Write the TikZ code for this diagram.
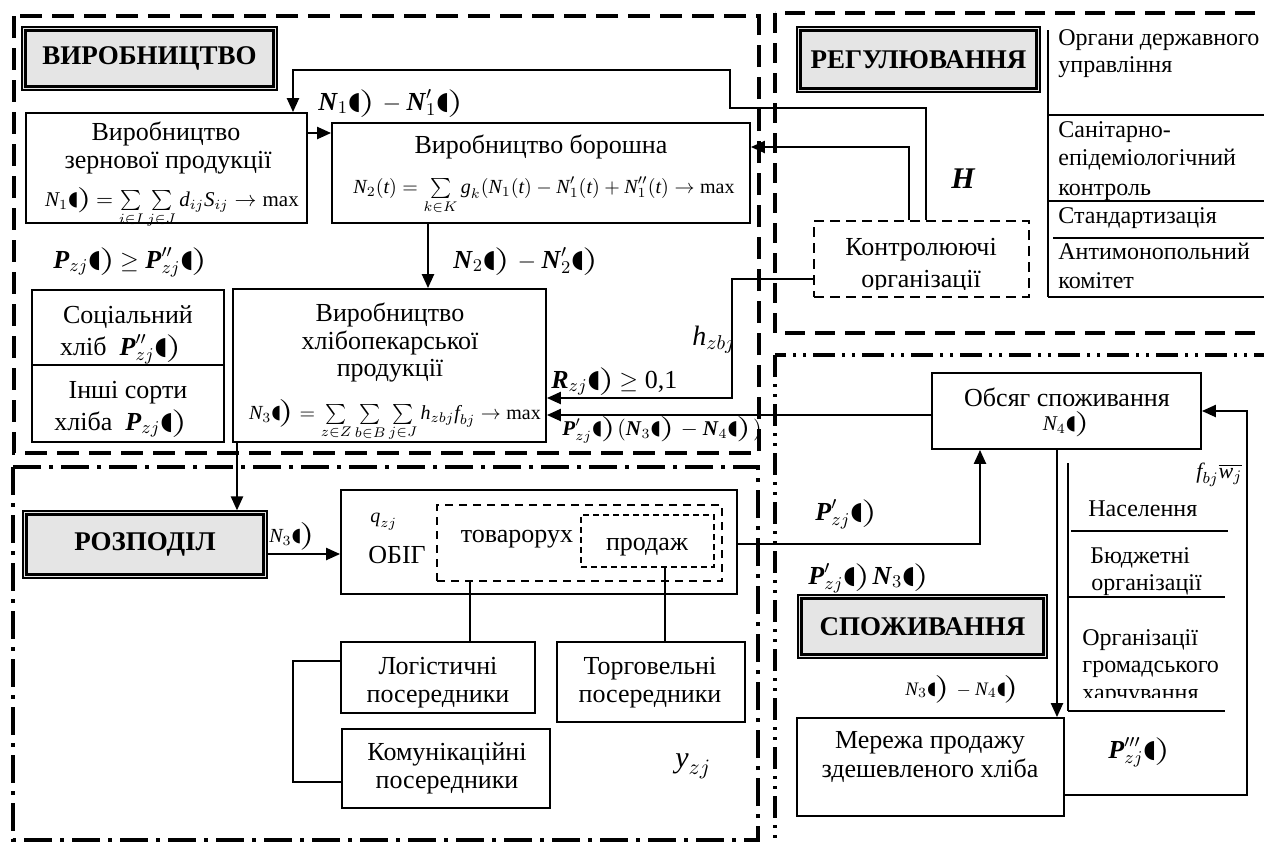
\documentclass[tikz,border=0pt]{standalone}
\usepackage{fontspec}
\setmainfont{Liberation Serif}
\newfontfamily\dvs{DejaVu Sans}
\usepackage{graphicx}
\usetikzlibrary{arrows.meta}
\newcommand\bk{\mbox{\raisebox{0.05ex}{\dvs\scalebox{0.95}{◖}}\kern-0.08em\smash{\scalebox{1.7}[1.15]{$\bigr)$}}\kern0.1em}}
\newcommand\mi[1]{\textit{#1}}
\newcommand\bi[1]{\textbf{\textit{#1}}}
\begin{document}
\begin{tikzpicture}[x=0.5pt,y=-0.5pt,
  bx/.style={draw,line width=0.9pt,inner sep=0pt},
  sz/.style 2 args={minimum width={#1*0.5pt},minimum height={#2*0.5pt}},
  ttl/.style={draw,line width=0.6pt,fill=black!10,inner sep=0pt,font=\fontsize{13.5}{16}\selectfont\bfseries},
  ttlin/.style={line width=1.4pt},
  txt/.style={inner sep=0pt,anchor=base,font=\fontsize{13}{15}\selectfont},
  lst/.style={inner sep=0pt,anchor=base west,font=\fontsize{12}{14}\selectfont},
  fml/.style={inner sep=0pt,anchor=base,font=\fontsize{10.5}{12}\selectfont},
  lbl/.style={inner sep=0pt,anchor=base west,font=\fontsize{13}{15}\selectfont},
  slbl/.style={inner sep=0pt,anchor=base west,font=\fontsize{10}{12}\selectfont},
  arr/.style={line width=1.1pt,-{Triangle[length=7pt,width=6pt]}},
  ln/.style={line width=0.7pt},
  regprod/.style={line width=2pt,dash pattern=on 11pt off 5pt},
  regreg/.style={line width=1.6pt,dash pattern=on 10pt off 5pt},
  regcons/.style={line width=2pt,dash pattern=on 11pt off 3.5pt on 1.5pt off 3.5pt on 1.5pt off 3.5pt},
  regdist/.style={line width=2pt,dash pattern=on 14pt off 4pt on 2pt off 4pt},
  dbox/.style={draw,line width=0.8pt,dash pattern=on 5pt off 3pt,inner sep=0pt},
  dboxb/.style={draw,line width=1.1pt,dash pattern=on 4pt off 3pt,inner sep=0pt},
  dboxc/.style={draw,line width=0.8pt,dash pattern=on 3pt off 2pt,inner sep=0pt}
]
\useasboundingbox (0,0) rectangle (1264,843);
\clip (0,0) rectangle (1264,843);
\fill[white] (0,0) rectangle (1264,843);

% ---------- region frames
\draw[regprod] (14,16) rectangle (759,453);
\draw[regreg] (775,13) rectangle (1280,333);
\draw[regcons] (775,355) rectangle (1280,860);
\draw[regdist] (13,467) rectangle (758,840);

% ---------- titles
\node[ttl,sz={255}{63}] (tProd) at (149.5,58.5) {ВИРОБНИЦТВО};
\draw[ttlin] ([shift={(4,4)}]tProd.north west) rectangle ([shift={(-4,-4)}]tProd.south east);
\node[ttl,sz={243}{65}] (tReg) at (918.5,59.5) {РЕГУЛЮВАННЯ};
\draw[ttlin] ([shift={(4,4)}]tReg.north west) rectangle ([shift={(-4,-4)}]tReg.south east);
\node[ttl,sz={244}{67}] (tDist) at (145,544.5) {РОЗПОДІЛ};
\draw[ttlin] ([shift={(4,4)}]tDist.north west) rectangle ([shift={(-4,-4)}]tDist.south east);
\node[ttl,sz={249}{63}] (tCons) at (922.5,626.5) {СПОЖИВАННЯ};
\draw[ttlin] ([shift={(4,4)}]tCons.north west) rectangle ([shift={(-4,-4)}]tCons.south east);

% ---------- production boxes
\node[bx,sz={281}{110}] (grain) at (166.5,168) {};
\node[txt] (grainA) at (166,140) {Виробництво};
\node[txt] (grainB) at (168,168) {зернової продукції};
\node[fml] (grainF) at (172,206) {$\mi{N}_1\bk\!=\sum\limits_{i\in I}\sum\limits_{j\in J}\mi{d}_{ij}\mi{S}_{ij}\to\max$};

\node[bx,sz={418}{100}] (flour) at (541,173) {};
\node[txt] (flourA) at (541,153) {Виробництво борошна};
\node[fml,font=\fontsize{10}{12}\selectfont] (flourF) at (544,193) {$\mi{N}_2(\mi{t})=\sum\limits_{k\in K}\mi{g}_k(\mi{N}_1(\mi{t})-\mi{N}'_1(\mi{t})+\mi{N}''_1(\mi{t})\to\max$};

\node[bx,sz={192}{75}] (social) at (128,327.5) {};
\node[bx,sz={192}{77}] (other) at (128,403.5) {};
\node[txt] (socialA) at (128,323) {Соціальний};
\begin{scope}
\clip (32,330) rectangle (224,364);
\node[txt] (socialB) at (122,355) {хліб \ $\bi{P}''_{zj}\bk$};
\end{scope}
\node[txt] (otherA) at (128,398) {Інші сорти};
\begin{scope}
\clip (32,405) rectangle (224,441);
\node[txt] (otherB) at (122,430) {хліба \ $\bi{P}_{zj}\bk$};
\end{scope}

\node[bx,sz={313}{153}] (bakery) at (389.5,365.5) {};
\node[txt] (bakA) at (390,321) {Виробництво};
\node[txt] (bakB) at (390,349) {хлібопекарської};
\node[txt] (bakC) at (390,376) {продукції};
\node[fml,font=\fontsize{10}{12}\selectfont] (bakF) at (395,419) {$\mi{N}_3\bk\!=\sum\limits_{z\in Z}\sum\limits_{b\in B}\sum\limits_{j\in J}\mi{h}_{zbj}\mi{f}_{bj}\to\max$};

% ---------- regulation
\node[dbox,sz={215}{76}] (ctrl) at (921.5,259) {};
\node[txt] (ctrlA) at (921,255) {Контролюючі};
\begin{scope}
\clip (816,262) rectangle (1027,289);
\node[txt] (ctrlB) at (921,287) {організації};
\end{scope}

\draw[ln] (1048,30) -- (1048,297);
\draw[ln] (1048,115) -- (1264,115);
\draw[ln] (1048,201) -- (1264,201);
\draw[ln] (1053,238) -- (1264,238);
\draw[ln] (1048,297) -- (1264,297);
\node[lst] (r1) at (1058,45) {Органи державного};
\node[lst] (r2) at (1058,72) {управління};
\node[lst] (r3) at (1058,137) {Санітарно-};
\node[lst] (r4) at (1058,165) {епідеміологічний};
\begin{scope}
\clip (1050,170) rectangle (1264,200);
\node[lst] (r5) at (1058,195) {контроль};
\end{scope}
\node[lst] (r6) at (1058,223) {Стандартизація};
\node[lst] (r7) at (1058,259) {Антимонопольний};
\node[lst] (r8) at (1058,288) {комітет};

\node[inner sep=0pt,anchor=base west,font=\fontsize{15}{17}\selectfont] (H) at (951,188) {\bi{H}};

% ---------- consumption
\node[bx,sz={269}{76}] (volume) at (1066.5,411) {};
\node[txt] (volA) at (1067,406) {Обсяг споживання};
\node[fml] (volB) at (1067,430) {$\mi{N}_4\bk$};

\node[bx,sz={267}{98}] (network) at (930.5,767) {};
\node[txt] (netA) at (930,748) {Мережа продажу};
\node[txt] (netB) at (930,777) {здешевленого хліба};

\draw[ln] (1068,463) -- (1068,711);
\draw[ln] (1071,531) -- (1228,531);
\draw[ln] (1068,597) -- (1225,597);
\draw[ln] (1068,711) -- (1225,711);
\node[lst] (c1) at (1088,516) {Населення};
\node[lst] (c2) at (1090,563) {Бюджетні};
\begin{scope}
\clip (1070,570) rectangle (1230,595);
\node[lst] (c3) at (1091,590) {організації};
\end{scope}
\node[lst] (c4) at (1082,645) {Організації};
\node[lst] (c5) at (1082,672) {громадського};
\begin{scope}
\clip (1070,676) rectangle (1230,697);
\node[lst] (c6) at (1082,700) {харчування};
\end{scope}

% ---------- distribution
\node[bx,sz={396}{104}] (obig) at (539,542) {};
\node[dboxb,sz={285}{76}] (tovar) at (579.5,543) {};
\node[dboxc,sz={133}{52}] (prodazh) at (647.5,541) {};
\node[inner sep=0pt,anchor=base west,font=\fontsize{10}{12}\selectfont] (q) at (370,522) {$\mi{q}_{zj}$};
\node[txt] (obigT) at (397,563) {ОБІГ};
\node[txt] (tovT) at (517,542) {товарорух};
\node[txt] (prodT) at (647,550) {продаж};

\node[bx,sz={194}{71}] (log) at (438,677.5) {};
\node[txt] (logA) at (438,674) {Логістичні};
\begin{scope}
\clip (343,680) rectangle (533,711);
\node[txt] (logB) at (438,702) {посередники};
\end{scope}
\node[bx,sz={188}{80}] (trade) at (651,682) {};
\node[txt] (tradeA) at (650,674) {Торговельні};
\node[txt] (tradeB) at (650,702) {посередники};
\node[bx,sz={208}{79}] (comm) at (446,768.5) {};
\node[txt] (commA) at (447,760) {Комунікаційні};
\node[txt] (commB) at (447,788) {посередники};

% ---------- labels
\node[lbl] (L1) at (318,110) {$\bi{N}_1\bk-\bi{N}'_1\bk$};
\node[lbl] (L2) at (453,268) {$\bi{N}_2\bk-\bi{N}'_2\bk$};
\node[lbl] (L3) at (53,268) {$\bi{P}_{zj}\bk\!\geq\bi{P}''_{zj}\bk$};
\node[inner sep=0pt,anchor=base west,font=\fontsize{14}{16}\selectfont] (Lh) at (692,345) {$\mi{h}_{zbj}$};
\node[lbl] (LR) at (551,388) {$\bi{R}_{zj}\bk\!\geq\mbox{0,1}$};
\node[inner sep=0pt,anchor=base west,font=\fontsize{10.5}{12}\selectfont] (LP1) at (562,435) {$\bi{P}'_{zj}\bk(\bi{N}_3\bk-\bi{N}_4\bk)$};
\node[lbl] (LP2) at (815,520) {$\bi{P}'_{zj}\bk$};
\node[lbl] (LP3) at (808,584) {$\bi{P}'_{zj}\bk\bi{N}_3\bk$};
\node[inner sep=0pt,anchor=base west,font=\fontsize{9.5}{11}\selectfont] (LN34) at (905,695) {$\mi{N}_3\bk-\mi{N}_4\bk$};
\node[lbl] (LP4) at (1108,758) {$\bi{P}'''_{zj}\bk$};
\node[inner sep=0pt,anchor=base west,font=\fontsize{11}{13}\selectfont] (Lf) at (1196,478) {$\mi{f}_{bj}\overline{\mi{w}_j}$};
\node[slbl] (LN3) at (269,542) {$\mi{N}_3\bk$};
\node[inner sep=0pt,anchor=base west,font=\fontsize{15}{17}\selectfont] (Ly) at (675,767) {$\mi{y}_{zj}$};

% ---------- connectors
\coordinate (k133) at (0,133);
\draw[arr] (grain.east |- k133) -- (flour.west |- k133);
\coordinate (fbA) at (926,108);
\coordinate (fbB) at (730,70);
\coordinate (fbC) at (293,70);
\draw[arr] (ctrl.north -| fbA) -- (fbA) -| (fbB) -- (fbC) -- (grain.north -| fbC);
\coordinate (cB) at (909,147);
\draw[arr] (ctrl.north -| cB) -- (cB) -- (flour.east |- cB);
\coordinate (k428) at (428,0);
\draw[arr] (flour.south -| k428) -- (bakery.north -| k428);
\coordinate (hA) at (732,279);
\coordinate (hB) at (732,398);
\draw[arr] (ctrl.west |- hA) -- (hA) -- (hB) -- (bakery.east |- hB);
\coordinate (pA) at (0,415);
\draw[arr] (volume.west |- pA) -- (bakery.east |- pA);
\coordinate (dA) at (237,0);
\draw[arr] (bakery.south -| dA) -- (tDist.north -| dA);
\coordinate (dB) at (0,554);
\draw[arr] (tDist.east |- dB) -- (obig.west |- dB);
\coordinate (oA) at (980,544);
\draw[arr] (obig.east |- oA) -- (oA) -- (volume.south -| oA);
\coordinate (vA) at (1057,0);
\draw[arr] (volume.south -| vA) -- (network.north -| vA);
\coordinate (nA) at (1247,795);
\coordinate (nB) at (1247,411);
\draw[arr] (network.east |- nA) -- (nA) -- (nB) -- (volume.east |- nB);
\coordinate (tA) at (470,0);
\draw[ln] (tovar.south -| tA) -- (log.north -| tA);
\coordinate (tB) at (665,0);
\draw[ln] (prodazh.south -| tB) -- (trade.north -| tB);
\coordinate (lA) at (293,661);
\coordinate (lB) at (293,782);
\draw[ln] (log.west |- lA) -- (lA) -- (lB) -- (comm.west |- lB);
\end{tikzpicture}
\end{document}
